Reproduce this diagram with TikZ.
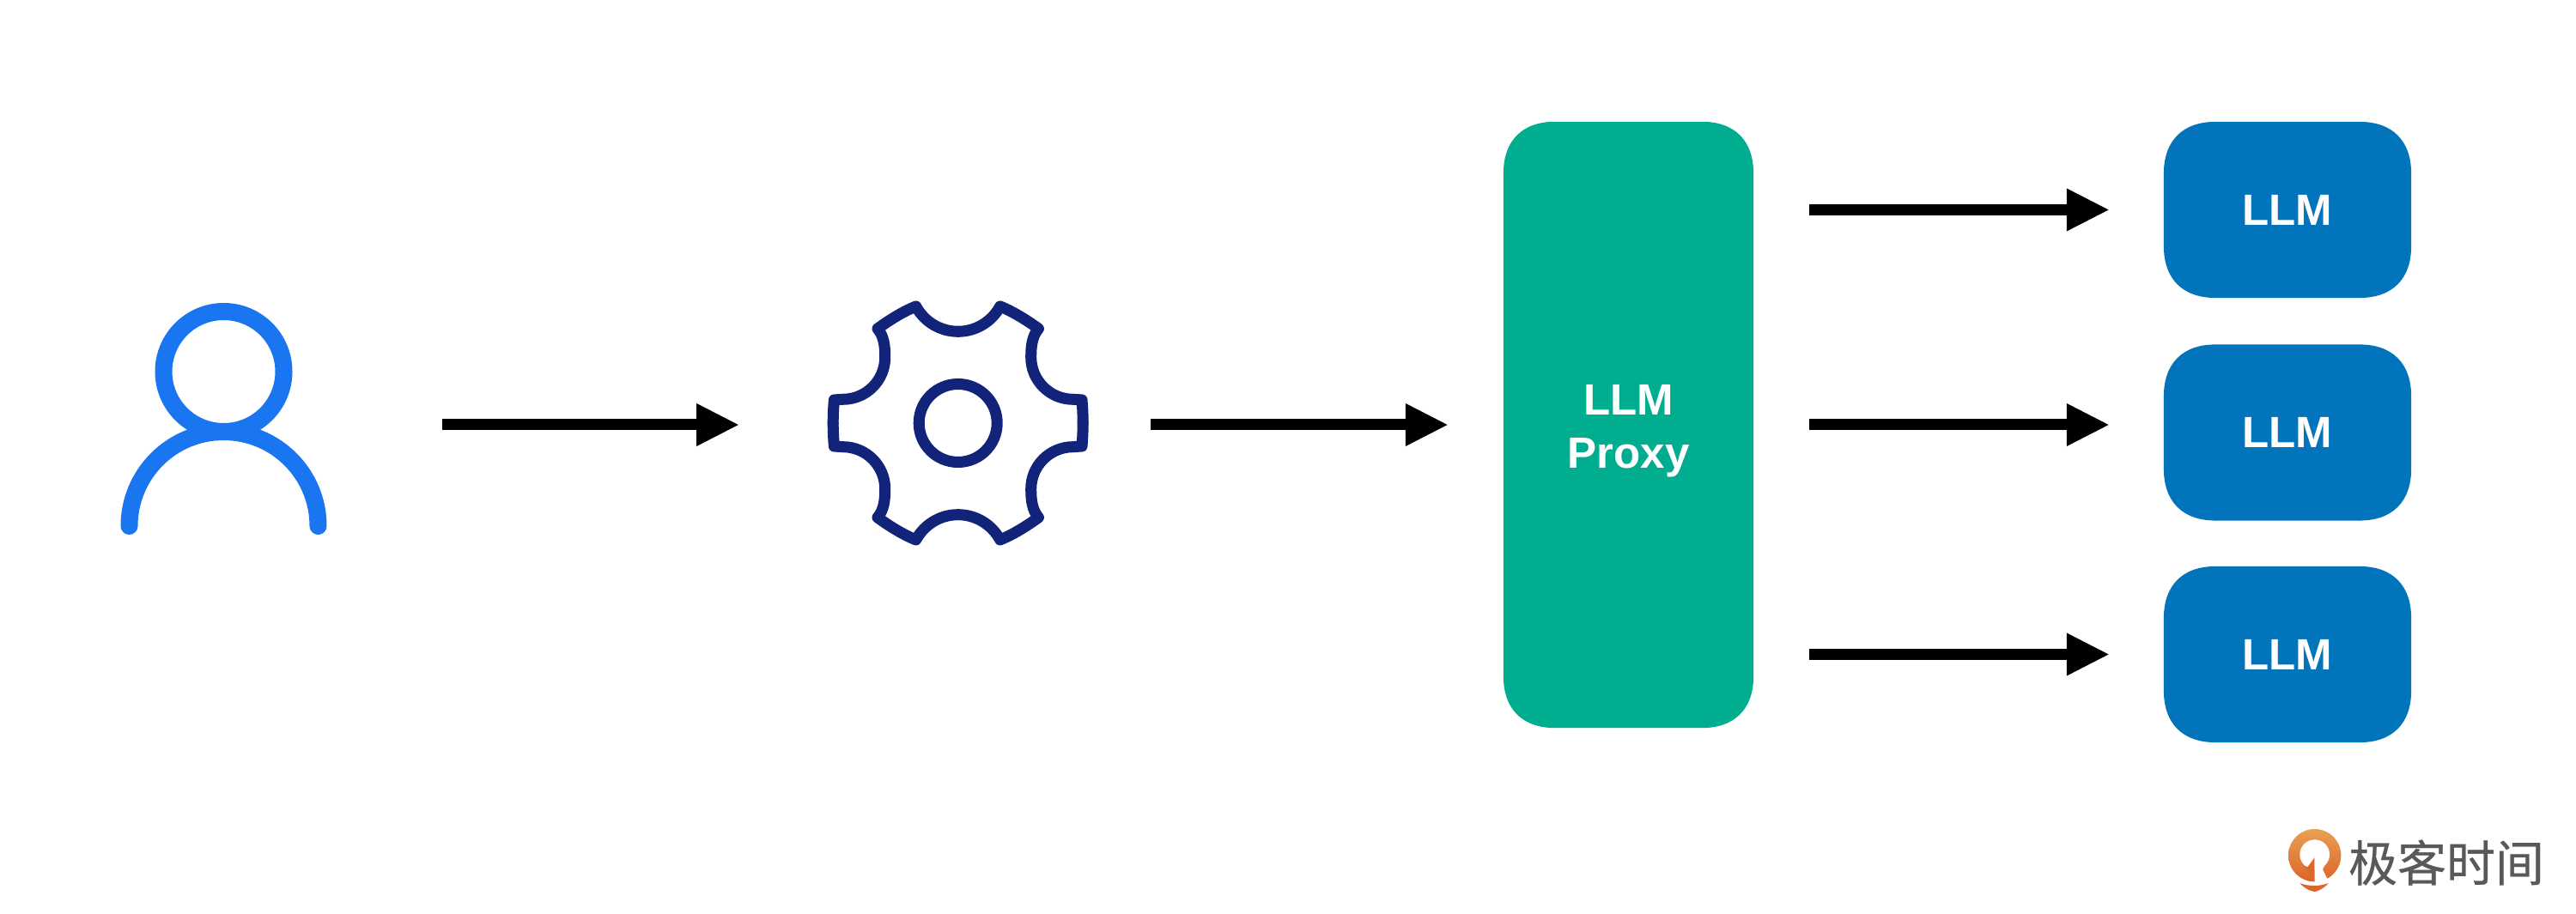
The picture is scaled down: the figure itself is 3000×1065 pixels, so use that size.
\documentclass[tikz,border=0pt]{standalone}
\usepackage{fontspec}
\setmainfont{Liberation Sans}
\newfontfamily\cjkfont[UprightFeatures={FakeBold=0.5}]{Noto Sans CJK SC}
\usetikzlibrary{arrows.meta,backgrounds}
\definecolor{userblue}{RGB}{26,117,240}
\definecolor{gearnavy}{RGB}{18,35,122}
\definecolor{proxygreen}{RGB}{0,173,142}
\definecolor{llmblue}{RGB}{2,116,188}
\definecolor{logotop}{RGB}{232,160,85}
\definecolor{logobot}{RGB}{220,101,40}
\definecolor{logogrey}{RGB}{89,89,89}
\newcommand{\softbox}[2]{\fill[#2] ([yshift=-0.6cm]#1.north west)
    .. controls +(0,-38) and +(-38,0) .. ([xshift=0.6cm]#1.north west)
    -- ([xshift=-0.6cm]#1.north east)
    .. controls +(38,0) and +(0,-38) .. ([yshift=-0.6cm]#1.north east)
    -- ([yshift=0.6cm]#1.south east)
    .. controls +(0,38) and +(38,0) .. ([xshift=-0.6cm]#1.south east)
    -- ([xshift=0.6cm]#1.south west)
    .. controls +(-38,0) and +(0,38) .. ([yshift=0.6cm]#1.south west) -- cycle;}
\begin{document}
\begin{tikzpicture}[
    x=0.01cm, y=-0.01cm,
    box/.style={inner sep=0pt, outer sep=0pt, align=center, text=white,
                font=\fontsize{14.5}{17.6}\selectfont\bfseries},
    llmbox/.style={box, minimum width=2.88cm, minimum height=2.05cm},
    ghost/.style={inner sep=0pt, minimum height=2.8cm},
    arr/.style={-{Triangle[length=0.5cm, width=0.46cm]}, line width=0.13cm, black},
    usericon/.style={draw=userblue, line width=0.2cm, line cap=round},
    gearicon/.style={draw=gearnavy, line width=0.13cm, line cap=round, line join=round}
]
    \node[ghost, minimum width=2.4cm]  (user)  at (260.5,495) {};
    \node[ghost, minimum width=3.06cm] (gear)  at (1115,495) {};
    \node[box, minimum width=2.91cm, minimum height=7.06cm] (proxy) at (1896.5,495) {\rule{0pt}{0.49cm}LLM\\Proxy};
    \node[llmbox] (llma) at (2664,244.5) {LLM};
    \node[llmbox] (llmb) at (2664,504) {LLM};
    \node[llmbox] (llmc) at (2664,762.5) {LLM};
    \begin{scope}[on background layer]
        \path[fill=white, use as bounding box] (0,0) rectangle (3000,1065);
        \softbox{proxy}{proxygreen}
        \softbox{llma}{llmblue}
        \softbox{llmb}{llmblue}
        \softbox{llmc}{llmblue}
    \end{scope}

    \draw[usericon] (260.5,433) circle[radius=70];
    \draw[usericon] (150.5,613) arc[start angle=180, end angle=360, radius=110];

    \begin{scope}[shift={(1115.7,493)}]
        \draw[gearicon] (0,0) circle[radius=45.5];
        \foreach \sx/\sy in {1/1,-1/1,1/-1,-1/-1}
            \draw[gearicon, xscale=\sx, yscale=\sy] (0,-106.7)
                .. controls (20.4,-106.7) and (39.2,-117.9) .. (49,-136)
                .. controls (64,-130) and (80,-120) .. (93.7,-110)
                .. controls (86,-101) and (85,-88.7) .. (85,-76.7)
                .. controls (85,-49.6) and (107,-27.7) .. (134,-27.7)
                -- (144.3,-27) .. controls (145,-18) and (145.5,-9) .. (145.5,0);
    \end{scope}

    \draw[arr, shorten <=1.34cm, shorten >=1.0cm] (user) -- (gear);
    \draw[arr, shorten <=0.71cm, shorten >=0.64cm] (gear) -- (proxy);
    \draw[arr, shorten <=0.65cm, shorten >=0.63cm] (proxy.east |- llma) -- (llma);
    \draw[arr, shorten <=0.65cm, shorten >=0.63cm] (proxy.east) -- (proxy.east -| llmb.west);
    \draw[arr, shorten <=0.65cm, shorten >=0.63cm] (proxy.east |- llmc) -- (llmc);

    \begin{scope}[shift={(2655,955)}, scale=1/3]
        \shade[top color=logotop, bottom color=logobot] (122,125) circle[radius=92];
        \fill[white] (122,122) circle[radius=52];
        \fill[logobot!95!logotop] (122,132) -- (97,166) -- (84,160) -- (122,205) -- cycle;
        \fill[white] (122,132) -- (122,224) -- (170,214) -- (150,175) -- (160,150) -- cycle;
        \fill[logobot] (70,222) .. controls (100,234) and (140,234) .. (170,222)
            .. controls (155,240) and (135,250) .. (122,252)
            .. controls (105,250) and (85,240) .. (70,222) -- cycle;
    \end{scope}
    \node[text=logogrey, inner sep=0pt, font=\fontsize{16.2}{16}\selectfont\cjkfont] (logo) at (2849,1005) {极客时间};
\end{tikzpicture}
\end{document}
